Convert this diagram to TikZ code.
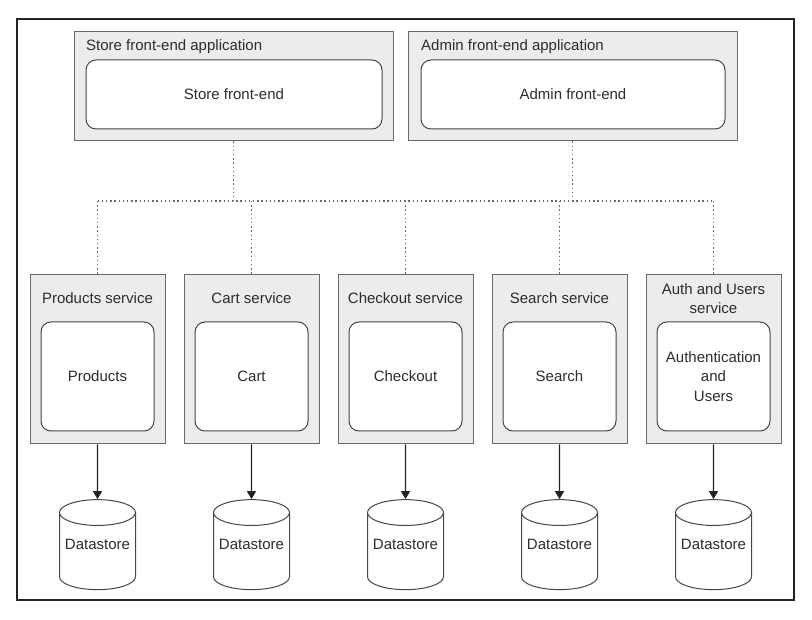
\documentclass[tikz,border=0pt]{standalone}
\usepackage{fontspec}
\setmainfont{Liberation Sans}
\usetikzlibrary{arrows.meta,shapes.geometric,positioning}
\definecolor{cframe}{RGB}{35,35,35}
\definecolor{cfill}{RGB}{236,236,236}
\definecolor{cedge}{RGB}{105,105,105}
\definecolor{cinner}{RGB}{70,70,70}
\definecolor{ctext}{RGB}{45,45,45}
\tikzset{
  outerbox/.style={rectangle, draw=cedge, fill=cfill, line width=1pt},
  innerbox/.style={rectangle, rounded corners=10pt, draw=cinner, fill=white,
    line width=1pt, text=ctext, align=center,
    font=\fontsize{15}{19.5}\selectfont},
  boxtitle/.style={text=ctext, align=center, inner sep=0pt,
    font=\fontsize{15}{19.5}\selectfont},
  store/.style={cylinder, shape border rotate=90, aspect=0.36,
    draw=cinner, fill=white, line width=1pt, minimum width=76pt,
    minimum height=90pt, font=\fontsize{15}{18}\selectfont},
  storetext/.style={text=ctext, inner sep=0pt, font=\fontsize{15}{18}\selectfont},
  link/.style={draw=cedge, line width=1.1pt, dash pattern=on 1.4pt off 2.8pt},
  arr/.style={-{Triangle[length=8pt,width=9pt]}, line width=1.3pt, color=cframe}
}
\begin{document}
\begin{tikzpicture}[x=1pt,y=-1pt]
  \useasboundingbox (0,0) rectangle (812,620);
  \draw[cframe, line width=2.6pt] (17,19) rectangle (794,600);
  % front-end applications
  \node[outerbox, minimum width=319pt, minimum height=109pt] (storeapp) at (233.5,86.5) {};
  \node[innerbox, minimum width=296pt, minimum height=69pt] (storefe) at (234,94.5) {Store front-end};
  \node[boxtitle, anchor=base west] (storet) at (86,51) {Store front-end application};
  \node[outerbox, minimum width=329pt, minimum height=109pt] (adminapp) at (572.5,86.5) {};
  \node[innerbox, minimum width=304pt, minimum height=69pt] (adminfe) at (573,94.5) {Admin front-end};
  \node[boxtitle, anchor=base west] (admint) at (421,51) {Admin front-end application};
  % services and their datastores
  \foreach \i/\ttl/\part in {1/Products service/Products, 2/Cart service/Cart,
      3/Checkout service/Checkout, 4/Search service/Search,
      5/{Auth and Users\\service}/{Authentication\\and\\Users}} {
    \pgfmathsetmacro{\cx}{97.5+154*(\i-1)}
    \node[outerbox, minimum width=135pt, minimum height=169pt] (svc\i) at (\cx,359.5) {};
    \node[innerbox, minimum width=113pt, minimum height=109pt] (mod\i) at (\cx,376.5) {\part};
    \node[boxtitle] (svct\i) at (\cx,298.5) {\ttl};
    \node[store] (db\i) at (\cx,554) {\phantom{Datastore}};
    \node[storetext] (dbt\i) at (\cx,544) {Datastore};
    \coordinate (bus\i) at (\cx,201);
    \draw[arr] (svc\i.south) -- (db\i.north);
    \draw[link] (bus\i) -- (svc\i.north);
  }
  \draw[link] (bus1) -- (bus5);
  \draw[link] (storeapp.south) -- (storeapp.south |- bus1);
  \draw[link] (adminapp.south) -- (adminapp.south |- bus1);
\end{tikzpicture}
\end{document}
